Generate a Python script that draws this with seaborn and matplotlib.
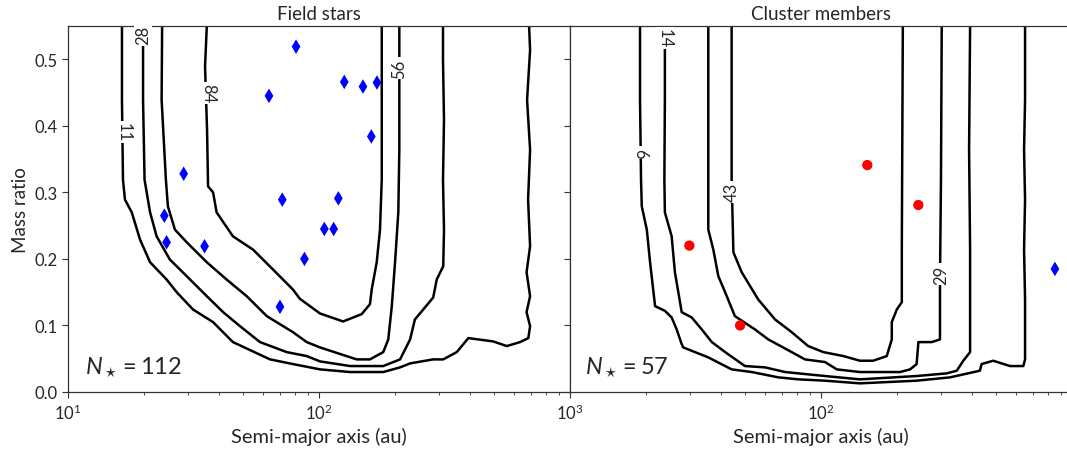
import numpy as np
import matplotlib
matplotlib.use("Agg")
import matplotlib.pyplot as plt
import seaborn as sns
from matplotlib.ticker import LogLocator, NullFormatter, FixedLocator

# ---------------- data ----------------
# Field stars (left panel): semi-major axis (au) and mass ratio
field_a = [81.0, 63.2, 126.1, 149.7, 170.2, 161.6, 28.9, 71.4, 119.4, 105.0,
           114.4, 87.5, 24.2, 24.7, 35.0, 69.9]
field_q = [0.519, 0.445, 0.466, 0.459, 0.465, 0.384, 0.328, 0.289, 0.291, 0.245,
           0.245, 0.200, 0.265, 0.225, 0.219, 0.128]

# Cluster members (right panel)
cluster_a = [29.9, 47.6, 152.9, 244.2]
cluster_q = [0.220, 0.100, 0.341, 0.281]
cluster_field_a = [855.0]
cluster_field_q = [0.185]

n_field = 112
n_cluster = 57

# Contours of detection completeness, traced as log10(a/au) and mass ratio
f11_loga = [1.215, 1.215, 1.219, 1.227, 1.254, 1.287, 1.327, 1.393, 1.433, 1.498, 1.578,
            1.657, 1.805, 1.896, 2.004, 2.124, 2.256, 2.323, 2.363, 2.455, 2.495, 2.549,
            2.595, 2.694, 2.748, 2.801, 2.834, 2.841, 2.827, 2.841, 2.827, 2.841, 2.833,
            2.841, 2.829, 2.841, 2.837]
f11_q = [0.55, 0.439, 0.319, 0.289, 0.270, 0.229, 0.195, 0.169, 0.150, 0.124, 0.105,
         0.075, 0.049, 0.042, 0.034, 0.030, 0.030, 0.037, 0.043, 0.049, 0.049, 0.060,
         0.081, 0.076, 0.069, 0.075, 0.081, 0.099, 0.120, 0.144, 0.180, 0.219, 0.289,
         0.364, 0.439, 0.514, 0.55]

f28_loga = [1.299, 1.299, 1.305, 1.327, 1.353, 1.406, 1.473, 1.553, 1.618, 1.685, 1.765,
            1.871, 1.951, 2.004, 2.124, 2.256, 2.323, 2.363, 2.382, 2.422, 2.455, 2.469,
            2.495, 2.498, 2.494, 2.498, 2.494, 2.494]
f28_q = [0.55, 0.439, 0.319, 0.270, 0.234, 0.199, 0.174, 0.144, 0.120, 0.099, 0.075,
         0.060, 0.054, 0.046, 0.039, 0.039, 0.049, 0.079, 0.109, 0.127, 0.142, 0.169,
         0.189, 0.244, 0.319, 0.409, 0.499, 0.55]

f56_loga = [1.375, 1.373, 1.390, 1.398, 1.426, 1.473, 1.553, 1.632, 1.712, 1.792, 1.896,
            1.951, 2.004, 2.150, 2.203, 2.256, 2.276, 2.290, 2.303, 2.316, 2.320, 2.320]
f56_q = [0.55, 0.439, 0.319, 0.279, 0.244, 0.225, 0.195, 0.169, 0.144, 0.114, 0.090,
         0.075, 0.067, 0.049, 0.049, 0.060, 0.079, 0.129, 0.195, 0.270, 0.364, 0.55]

f84_loga = [1.553, 1.546, 1.554, 1.558, 1.578, 1.592, 1.657, 1.737, 1.817, 1.896, 1.924,
            2.004, 2.096, 2.170, 2.203, 2.210, 2.230, 2.243, 2.250, 2.250]
f84_q = [0.55, 0.489, 0.394, 0.309, 0.300, 0.270, 0.234, 0.214, 0.184, 0.154, 0.140,
         0.118, 0.106, 0.117, 0.132, 0.154, 0.195, 0.244, 0.319, 0.55]

c6_loga = [1.279, 1.279, 1.283, 1.286, 1.306, 1.319, 1.339, 1.378, 1.405, 1.425, 1.445,
           1.451, 1.551, 1.644, 1.724, 1.830, 1.910, 2.016, 2.155, 2.381, 2.514, 2.633,
           2.640, 2.686, 2.753, 2.806, 2.813, 2.813, 2.809, 2.813, 2.809, 2.813, 2.813]
c6_q = [0.55, 0.439, 0.319, 0.279, 0.244, 0.195, 0.129, 0.122, 0.112, 0.094, 0.072,
        0.067, 0.052, 0.034, 0.030, 0.022, 0.019, 0.017, 0.013, 0.017, 0.022, 0.032,
        0.042, 0.047, 0.039, 0.039, 0.049, 0.139, 0.214, 0.289, 0.364, 0.439, 0.55]

c14_loga = [1.378, 1.378, 1.376, 1.378, 1.405, 1.418, 1.445, 1.485, 1.525, 1.565, 1.618,
            1.697, 1.777, 1.857, 2.016, 2.155, 2.381, 2.501, 2.541, 2.567, 2.594, 2.594,
            2.590, 2.594]
c14_q = [0.55, 0.439, 0.319, 0.270, 0.234, 0.180, 0.120, 0.112, 0.094, 0.075, 0.060,
         0.039, 0.037, 0.030, 0.024, 0.019, 0.024, 0.028, 0.032, 0.047, 0.060, 0.214,
         0.364, 0.55]

c29_loga = [1.551, 1.551, 1.551, 1.571, 1.591, 1.618, 1.657, 1.737, 1.790, 1.883, 1.936,
            2.016, 2.063, 2.155, 2.315, 2.355, 2.381, 2.388, 2.441, 2.474, 2.474, 2.478,
            2.481]
c29_q = [0.55, 0.439, 0.244, 0.214, 0.174, 0.150, 0.114, 0.094, 0.079, 0.060, 0.049,
         0.045, 0.034, 0.030, 0.030, 0.034, 0.042, 0.075, 0.075, 0.079, 0.169, 0.319,
         0.55]

c43_loga = [1.644, 1.644, 1.651, 1.684, 1.750, 1.817, 1.883, 1.949, 2.009, 2.089, 2.155,
            2.208, 2.262, 2.282, 2.282, 2.302, 2.322, 2.322, 2.326]
c43_q = [0.55, 0.319, 0.210, 0.180, 0.139, 0.109, 0.090, 0.069, 0.060, 0.054, 0.047,
         0.047, 0.054, 0.079, 0.105, 0.124, 0.135, 0.219, 0.55]

# contour label text and where each sits (log10 a, q, rotation)
field_labels = ["11", "28", "84", "56"]
field_label_loga = [1.221, 1.299, 1.557, 2.321]
field_label_q = [0.391, 0.537, 0.450, 0.487]
field_label_rot = [-90, 90, -90, 90]

cluster_labels = ["6", "14", "43", "29"]
cluster_label_loga = [1.280, 1.378, 1.644, 2.477]
cluster_label_q = [0.360, 0.532, 0.301, 0.177]
cluster_label_rot = [-90, -90, 90, 90]

# ---------------- style ----------------
sns.set_theme(style="ticks")
plt.rcParams["font.family"] = ["Lato", "DejaVu Sans"]
plt.rcParams["mathtext.fontset"] = "custom"
plt.rcParams["mathtext.rm"] = "Lato"
plt.rcParams["mathtext.it"] = "Lato:italic"
plt.rcParams["mathtext.bf"] = "Lato:bold"
plt.rcParams["axes.edgecolor"] = "#333333"
plt.rcParams["axes.linewidth"] = 0.9

W, H = 1067, 452
fig = plt.figure(figsize=(W / 100, H / 100), dpi=100)
axL = fig.add_axes([68 / W, 59 / H, 502 / W, 366 / H])
axR = fig.add_axes([570 / W, 59 / H, 502 / W, 366 / H], sharey=axL)

for ax in (axL, axR):
    ax.set_xscale("log")
    ax.set_xlim(10, 1000)
    ax.set_ylim(0, 0.55)


def draw_contour(ax, loga, q):
    sns.lineplot(x=10 ** np.asarray(loga), y=np.asarray(q), sort=False,
                 estimator=None, color="black", linewidth=1.8, ax=ax)


for la, q in [(f11_loga, f11_q), (f28_loga, f28_q), (f56_loga, f56_q), (f84_loga, f84_q)]:
    draw_contour(axL, la, q)
for la, q in [(c6_loga, c6_q), (c14_loga, c14_q), (c29_loga, c29_q), (c43_loga, c43_q)]:
    draw_contour(axR, la, q)


def draw_labels(ax, labels, loga, qs, rots):
    for t, la, q, r in zip(labels, loga, qs, rots):
        ax.text(10 ** la, q, t, rotation=r, ha="center", va="center", fontsize=12,
                bbox=dict(facecolor="white", edgecolor="none", pad=1.0), zorder=3)


draw_labels(axL, field_labels, field_label_loga, field_label_q, field_label_rot)
draw_labels(axR, cluster_labels, cluster_label_loga, cluster_label_q, cluster_label_rot)

sns.scatterplot(x=field_a, y=field_q, marker="d", color="blue", s=55,
                edgecolor="none", ax=axL, zorder=4)
sns.scatterplot(x=cluster_a, y=cluster_q, marker="o", color="red", s=55,
                edgecolor="none", ax=axR, zorder=4)
sns.scatterplot(x=cluster_field_a, y=cluster_field_q, marker="d", color="blue", s=55,
                edgecolor="none", ax=axR, zorder=4)

axL.text(0.033, 0.068, r"$N_\star = %d$" % n_field, transform=axL.transAxes,
         fontsize=17, ha="left", va="center")
axR.text(0.030, 0.068, r"$N_\star = %d$" % n_cluster, transform=axR.transAxes,
         fontsize=17, ha="left", va="center")

axL.set_title("Field stars", fontsize=13.5, pad=5)
axR.set_title("Cluster members", fontsize=13.5, pad=5)
axL.set_ylabel("Mass ratio", fontsize=13.5)
axL.set_xlabel("Semi-major axis (au)", fontsize=14.5)
axR.set_xlabel("Semi-major axis (au)", fontsize=14.5)
axL.set_yticks([0.0, 0.1, 0.2, 0.3, 0.4, 0.5])
axL.set_yticklabels(["0.0", "0.1", "0.2", "0.3", "0.4", "0.5"])
plt.setp(axR.get_yticklabels(), visible=False)

for ax in (axL, axR):
    ax.tick_params(axis="both", labelsize=12, direction="out", length=4, width=0.8,
                   color="#333333")
    ax.tick_params(axis="x", which="minor", length=2.5, width=0.6)
    ax.xaxis.set_major_locator(LogLocator(base=10, numticks=10))
    ax.xaxis.set_minor_locator(LogLocator(base=10, subs=np.arange(2, 10), numticks=20))
    ax.xaxis.set_minor_formatter(NullFormatter())

axR.xaxis.set_major_locator(FixedLocator([100]))

fig.savefig("out.png", dpi=100)
